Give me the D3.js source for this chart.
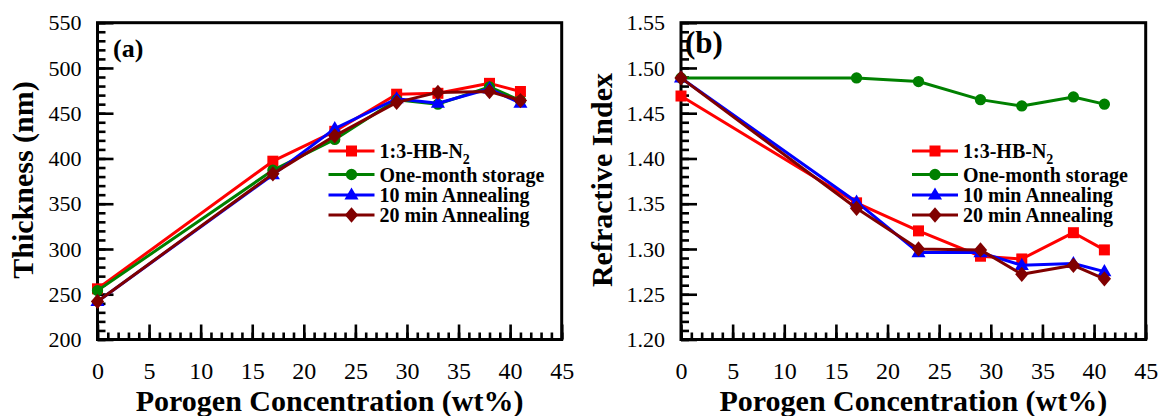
<!DOCTYPE html>
<html>
<head>
<meta charset="utf-8">
<script src="https://cdn.jsdelivr.net/npm/d3@7"></script>
<style>
  html, body { margin: 0; padding: 0; background: #fff; }
  svg { display: block; }
  text { font-family: "Liberation Serif", "Times New Roman", serif; fill: #000; }
</style>
</head>
<body>
<svg id="chart" width="1159" height="416"></svg>
<script>
// Porogen concentration (wt%) of each sample
const concentration = [0, 17, 23, 29, 33, 38, 41];

// Film thickness (nm)
const thicknessHB      = [256, 397, 430, 471, 472, 483, 474];
const thicknessStorage = [254, 387, 421, 465, 460, 479, 464];
const thickness10min   = [242, 382, 433, 466, 461, 477, 461];
const thickness20min   = [242, 383, 425, 462, 473, 474, 464];

// Refractive index
const indexHB      = [1.469, 1.351, 1.320, 1.292, 1.289, 1.318, 1.299];
const indexStorage = [1.489, 1.489, 1.485, 1.465, 1.458, 1.468, 1.460];
const index10min   = [1.489, 1.352, 1.296, 1.296, 1.282, 1.284, 1.275];
const index20min   = [1.489, 1.345, 1.300, 1.299, 1.272, 1.282, 1.267];

// Legend entries (main text + subscript)
const seriesLabels = ["1:3-HB-N", "One-month storage", "10 min Annealing", "20 min Annealing"];
const seriesSubs   = ["2", "", "", ""];
const seriesColors = ["#ff0000", "#008000", "#0000ff", "#800000"];

// Axis tick values
const xTicks = [0, 5, 10, 15, 20, 25, 30, 35, 40, 45];
const thicknessTicks = [200, 250, 300, 350, 400, 450, 500, 550];
const indexTicks = [1.20, 1.25, 1.30, 1.35, 1.40, 1.45, 1.50, 1.55];

// Marker shapes
const squareSym = { draw(ctx, size) { const h = Math.sqrt(size) / 2; ctx.rect(-h, -h, 2 * h, 2 * h); } };
const circleSym = { draw(ctx, size) { const r = Math.sqrt(size / Math.PI); ctx.moveTo(r, 0); ctx.arc(0, 0, r, 0, 2 * Math.PI); } };
const triangleSym = { draw(ctx, size) {
  const w = Math.sqrt(size) * 1.15, h = w * 0.86;
  ctx.moveTo(0, -h * 0.62); ctx.lineTo(w / 2, h * 0.38); ctx.lineTo(-w / 2, h * 0.38); ctx.closePath(); } };
const diamondSym = { draw(ctx, size) {
  const w = Math.sqrt(size) * 1.05, h = w * 1.15;
  ctx.moveTo(0, -h / 2); ctx.lineTo(w / 2, 0); ctx.lineTo(0, h / 2); ctx.lineTo(-w / 2, 0); ctx.closePath(); } };
const seriesSymbols = [squareSym, circleSym, triangleSym, diamondSym];
const seriesSizes = [121, 100, 150, 160];

const svg = d3.select("#chart");
const yTop = 22.7, yBottom = 339.5;

function drawPanel(cfg) {
  const g = svg.append("g");
  const x = d3.scaleLinear().domain([0, 45]).range([cfg.left, cfg.right]);
  const y = d3.scaleLinear().domain(cfg.yDomain).range([yBottom, yTop]);

  // frame
  g.append("rect")
    .attr("x", cfg.left).attr("y", yTop)
    .attr("width", cfg.right - cfg.left).attr("height", yBottom - yTop)
    .attr("fill", "none").attr("stroke", "#000").attr("stroke-width", 3);

  const styleAxis = sel => {
    sel.select(".domain").remove();
    sel.selectAll(".tick line").attr("stroke", "#000").attr("stroke-width", 2.6);
  };

  // x axis: minor + major ticks pointing inward
  g.append("g").attr("transform", `translate(0,${yBottom})`)
    .call(d3.axisBottom(x).tickValues(d3.range(0, 46, 1)).tickSize(-7).tickFormat(""))
    .call(styleAxis);
  g.append("g").attr("transform", `translate(0,${yBottom})`)
    .call(d3.axisBottom(x).tickValues(xTicks).tickSize(-15).tickPadding(22).tickFormat(d3.format("d")))
    .call(styleAxis)
    .call(s => s.selectAll("text").attr("font-size", 24).attr("font-family", "Liberation Serif, Times New Roman, serif"));

  // y axis
  g.append("g").attr("transform", `translate(${cfg.left},0)`)
    .call(d3.axisLeft(y).tickValues(cfg.yMinor).tickSize(-8).tickFormat(""))
    .call(styleAxis);
  g.append("g").attr("transform", `translate(${cfg.left},0)`)
    .call(d3.axisLeft(y).tickValues(cfg.yTicks).tickSize(-16).tickPadding(16).tickFormat(cfg.yFormat))
    .call(styleAxis)
    .call(s => s.selectAll("text").attr("font-size", 22).attr("font-family", "Liberation Serif, Times New Roman, serif"));

  // axis titles
  g.append("text")
    .attr("x", (cfg.left + cfg.right) / 2).attr("y", 411)
    .attr("text-anchor", "middle").attr("font-weight", "bold").attr("font-size", 30)
    .text("Porogen Concentration (wt%)");
  g.append("text")
    .attr("transform", `translate(${cfg.yTitleX},180) rotate(-90)`)
    .attr("text-anchor", "middle").attr("font-weight", "bold").attr("font-size", 30)
    .text(cfg.yTitle);

  // panel label
  g.append("text")
    .attr("x", cfg.tagX).attr("y", cfg.tagY)
    .attr("font-weight", "bold").attr("font-size", cfg.tagSize)
    .text(cfg.tag);

  // series
  const line = d3.line().x(d => x(d[0])).y(d => y(d[1]));
  cfg.series.forEach((vals, i) => {
    const pts = concentration.map((c, k) => [c, vals[k]]);
    g.append("path").datum(pts)
      .attr("d", line).attr("fill", "none")
      .attr("stroke", seriesColors[i]).attr("stroke-width", 3)
      .attr("stroke-linejoin", "round");
    g.selectAll(null).data(pts).join("path")
      .attr("transform", d => `translate(${x(d[0])},${y(d[1])})`)
      .attr("d", d3.symbol().type(seriesSymbols[i]).size(seriesSizes[i]))
      .attr("fill", seriesColors[i]);
  });

  // legend
  const rowY = [151, 174.5, 195, 215];
  const lx0 = cfg.left + 231, lx1 = cfg.left + 277, tx = cfg.left + 282;
  seriesLabels.forEach((lab, i) => {
    g.append("line")
      .attr("x1", lx0).attr("x2", lx1).attr("y1", rowY[i]).attr("y2", rowY[i])
      .attr("stroke", seriesColors[i]).attr("stroke-width", 3);
    g.append("path")
      .attr("transform", `translate(${(lx0 + lx1) / 2},${rowY[i]})`)
      .attr("d", d3.symbol().type(seriesSymbols[i]).size(seriesSizes[i]))
      .attr("fill", seriesColors[i]);
    const t = g.append("text")
      .attr("x", tx).attr("y", rowY[i] + 7)
      .attr("font-weight", "bold").attr("font-size", 20)
      .text(lab);
    if (seriesSubs[i]) {
      t.append("tspan").attr("dy", 6).attr("font-size", 14).text(seriesSubs[i]);
    }
  });
}

drawPanel({
  left: 97.5, right: 561.7,
  yDomain: [200, 550],
  yTicks: thicknessTicks,
  yMinor: d3.range(200, 551, 10),
  yFormat: d3.format("d"),
  yTitle: "Thickness (nm)", yTitleX: 33,
  tag: "(a)", tagX: 113, tagY: 57, tagSize: 26,
  series: [thicknessHB, thicknessStorage, thickness10min, thickness20min]
});

drawPanel({
  left: 681, right: 1145.7,
  yDomain: [1.20, 1.55],
  yTicks: indexTicks,
  yMinor: d3.range(0, 36, 1).map(k => 1.20 + k * 0.01),
  yFormat: d3.format(".2f"),
  yTitle: "Refractive Index", yTitleX: 612,
  tag: "(b)", tagX: 685, tagY: 53, tagSize: 31,
  series: [indexHB, indexStorage, index10min, index20min]
});
</script>
</body>
</html>
